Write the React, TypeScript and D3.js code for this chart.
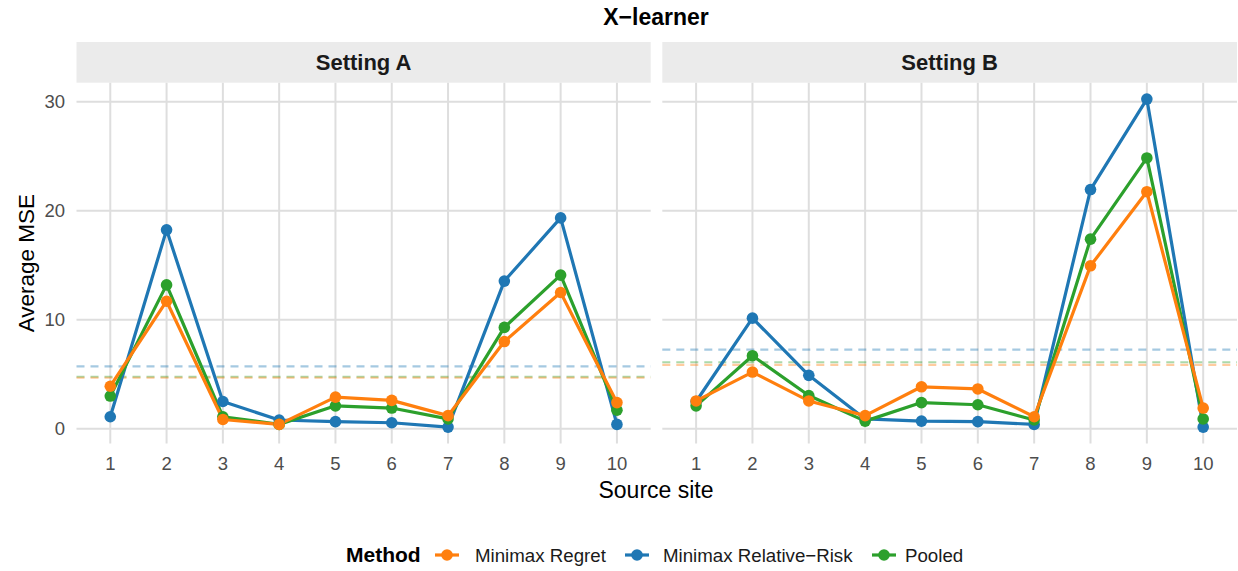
import React from "react";
import * as d3 from "d3";

// Source sites on the x axis
const sites = [1, 2, 3, 4, 5, 6, 7, 8, 9, 10];
const yTicks = [0, 10, 20, 30];
const panels = ["Setting A", "Setting B"];
const methods = ["Minimax Regret", "Minimax Relative\u2212Risk", "Pooled"];
const methodColors = ["#ff7f0e", "#1f77b4", "#2ca02c"];

// Average MSE per source site, Setting A
const regretA = [3.9, 11.7, 0.85, 0.4, 2.9, 2.6, 1.2, 8.0, 12.5, 2.4];
const relRiskA = [1.1, 18.25, 2.5, 0.8, 0.65, 0.55, 0.15, 13.55, 19.35, 0.4];
const pooledA = [3.0, 13.2, 1.1, 0.4, 2.1, 1.9, 0.9, 9.3, 14.1, 1.7];

// Average MSE per source site, Setting B
const regretB = [2.55, 5.2, 2.55, 1.2, 3.85, 3.65, 1.1, 14.95, 21.75, 1.9];
const relRiskB = [2.5, 10.15, 4.9, 0.9, 0.7, 0.65, 0.4, 21.95, 30.25, 0.15];
const pooledB = [2.1, 6.7, 3.05, 0.7, 2.4, 2.2, 0.8, 17.4, 24.85, 0.9];

// Mean over sites (dashed reference lines), order: regret, relative-risk, pooled
const meanA = [4.68, 5.73, 4.77];
const meanB = [5.86, 7.26, 6.1];

const seriesA = [regretA, relRiskA, pooledA];
const seriesB = [regretB, relRiskB, pooledB];

const W = 1238;
const H = 571;
const FONT = "'Liberation Sans', Arial, Helvetica, sans-serif";

const panelTop = 82.7;
const panelBottom = 443.5;
const panelX = [
  [76.5, 650.7],
  [662.3, 1237],
];

export default function App() {
  const all = [...seriesA.flat(), ...seriesB.flat(), ...meanA, ...meanB];
  const [lo, hi] = d3.extent(all) as [number, number];
  const pad = (hi - lo) * 0.05;
  const y = d3.scaleLinear().domain([lo - pad, hi + pad]).range([panelBottom, panelTop]);

  const drawOrder = [1, 2, 0]; // relative-risk, pooled, regret on top

  return (
    <svg width={W} height={H} style={{ display: "block", position: "absolute", left: 0, top: 0 }} fontFamily={FONT}>
      <rect width={W} height={H} fill="#ffffff" />
      <text x={656} y={25} textAnchor="middle" fontSize={23} fontWeight="bold" fill="#000">
        X{"\u2212"}learner
      </text>

      {panels.map((name, pi) => {
        const [x0, x1] = panelX[pi];
        const x = d3.scaleLinear().domain([0.4, 10.6]).range([x0, x1]);
        const series = pi === 0 ? seriesA : seriesB;
        const means = pi === 0 ? meanA : meanB;
        const line = d3
          .line<number>()
          .x((_, i) => x(sites[i]))
          .y((v) => y(v));
        return (
          <g key={name}>
            {/* strip */}
            <rect x={x0} y={42} width={x1 - x0} height={panelTop - 42} fill="#ebebeb" />
            <text x={(x0 + x1) / 2} y={70} textAnchor="middle" fontSize={22} fontWeight="bold" fill="#1a1a1a">
              {name}
            </text>
            {/* grid */}
            {yTicks.map((t) => (
              <line key={"h" + t} x1={x0} x2={x1} y1={y(t)} y2={y(t)} stroke="#dedede" strokeWidth={2} />
            ))}
            {sites.map((s) => (
              <line key={"v" + s} x1={x(s)} x2={x(s)} y1={panelTop} y2={panelBottom} stroke="#dedede" strokeWidth={2} />
            ))}
            {/* x tick labels */}
            {sites.map((s) => (
              <text key={"xt" + s} x={x(s)} y={470} textAnchor="middle" fontSize={18.5} fill="#4d4d4d">
                {s}
              </text>
            ))}
            {/* mean reference lines */}
            {drawOrder.map((mi) => (
              <line
                key={"m" + mi}
                x1={x0}
                x2={x1}
                y1={y(means[mi])}
                y2={y(means[mi])}
                stroke={methodColors[mi]}
                strokeOpacity={0.4}
                strokeWidth={2.2}
                strokeDasharray="8 6"
              />
            ))}
            {/* series */}
            {drawOrder.map((mi) => (
              <path key={"l" + mi} d={line(series[mi]) ?? ""} fill="none" stroke={methodColors[mi]} strokeWidth={3.2} strokeLinejoin="round" />
            ))}
            {drawOrder.map((mi) => (
              <g key={"p" + mi}>
                {series[mi].map((v, i) => (
                  <circle key={i} cx={x(sites[i])} cy={y(v)} r={5.8} fill={methodColors[mi]} />
                ))}
              </g>
            ))}
          </g>
        );
      })}

      {/* y tick labels */}
      {yTicks.map((t) => (
        <text key={"yt" + t} x={65} y={y(t) + 6.5} textAnchor="end" fontSize={18.5} fill="#4d4d4d">
          {t}
        </text>
      ))}

      {/* axis titles */}
      <text x={656} y={498} textAnchor="middle" fontSize={23} fill="#000">
        Source site
      </text>
      <text transform={`translate(34, ${(panelTop + panelBottom) / 2}) rotate(-90)`} textAnchor="middle" fontSize={22.5} fill="#000">
        Average MSE
      </text>

      {/* legend */}
      <text x={346} y={562} fontSize={21} fontWeight="bold" fill="#000">
        Method
      </text>
      {methods.map((m, i) => {
        const keyX = [447, 637, 884][i];
        const textX = [475, 663, 905][i];
        return (
          <g key={m}>
            <line x1={keyX - 12} x2={keyX + 12} y1={555} y2={555} stroke={methodColors[i]} strokeWidth={3.2} />
            <circle cx={keyX} cy={555} r={5.8} fill={methodColors[i]} />
            <text x={textX} y={561.5} fontSize={18.7} fill="#1a1a1a">
              {m}
            </text>
          </g>
        );
      })}
    </svg>
  );
}
